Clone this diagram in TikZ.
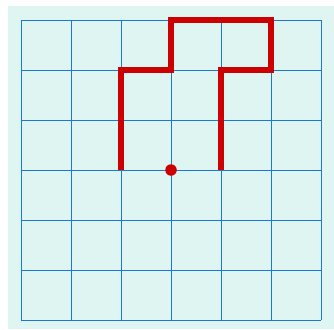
\documentclass[tikz,border=0pt]{standalone}
\usepackage{tikz}
\usetikzlibrary{calc}

\definecolor{bgmint}{HTML}{DFF5F1}
\definecolor{gridblue}{HTML}{1A78DC}
\definecolor{pathred}{HTML}{CC0000}

\begin{document}
\begin{tikzpicture}[
  gridline/.style={draw=gridblue, line width=0.45pt},
  route/.style={draw=pathred, line width=2.9pt, line join=miter},
  spot/.style={circle, fill=pathred, inner sep=0pt, minimum size=0.23cm},
]
\useasboundingbox (-0.42,-0.18) rectangle (6.26,6.4);

% --- Background ---
\fill[bgmint] (-0.26,-0.18) rectangle (6.26,6.28);

% --- Grid ---
\foreach \i in {0,...,6} {
  \draw[gridline] (\i,0) -- (\i,6);
  \draw[gridline] (0,\i) -- (6,\i);
}

% --- Route ---
\coordinate (p1) at (2,3);
\coordinate (p2) at (2,5);
\coordinate (p3) at (3,5);
\coordinate (p4) at (3,6);
\coordinate (p5) at (5,6);
\coordinate (p6) at (5,5);
\coordinate (p7) at (4,5);
\coordinate (p8) at (4,3);
\draw[route] (p1) -- (p2) -- (p3) -- (p4) -- (p5) -- (p6) -- (p7) -- (p8);

% --- Start point ---
\node[spot] (start) at (3,3) {};

\end{tikzpicture}
\end{document}
